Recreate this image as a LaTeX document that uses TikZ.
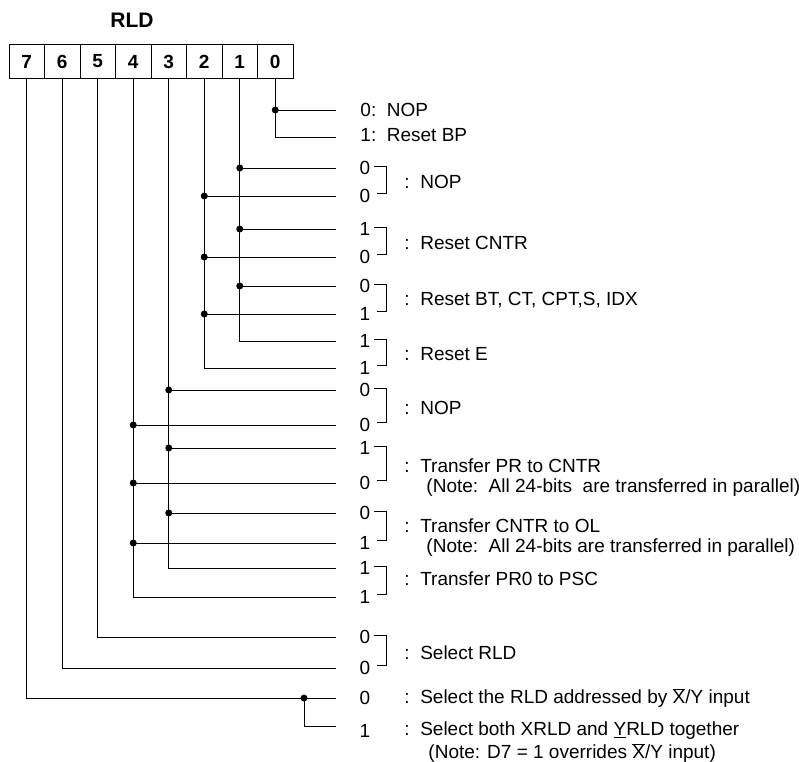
\documentclass[tikz,border=0pt]{standalone}
\usepackage{fontspec}
\setmainfont{Liberation Sans}
\usetikzlibrary{positioning,calc}
\newcommand{\barX}{\ensuremath{\overline{\mbox{X}}}}

\begin{document}
\begin{tikzpicture}[x=1pt,y=-1pt,line width=0.9pt]
  \tikzset{
    txt/.style={font=\fontsize{19}{22}\selectfont,inner sep=0pt},
    bitcell/.style={draw,minimum width=35.5pt,minimum height=33.5pt,
      inner sep=0pt,font=\fontsize{19}{22}\selectfont\bfseries},
    val/.style={txt,anchor=center},
    lbl/.style={txt,anchor=west},
  }
  \useasboundingbox (0,0) rectangle (799,761);

  \foreach \b [count=\i from 0] in {7,...,0}
    \node[bitcell] (b\b) at ({9+35.5*(\i+0.5)},61.5) {\b};
  \node[txt,font=\fontsize{21}{24}\selectfont\bfseries] (title) at (132,20) {RLD};

  \foreach \n/\y in {0/110,1/137,2/168,3/196,4/229,5/257,6/286,7/314,8/341,9/368,
      10/390,11/425,12/448,13/483,14/513,15/543,16/568,17/597,18/637,19/668,
      20/698,21/726}
    \coordinate (e\n) at (336,\y);
  \coordinate (j7) at (304,698);

  \draw (b0.south) |- (e1);
  \draw (b0 |- e0) -- (e0);
  \fill (b0 |- e0) circle (3.5pt);

  \draw (b1.south) |- (e8);
  \foreach \n in {2,4,6} {
    \draw (b1 |- e\n) -- (e\n);
    \fill (b1 |- e\n) circle (3.5pt);
  }
  \draw (b2.south) |- (e9);
  \foreach \n in {3,5,7} {
    \draw (b2 |- e\n) -- (e\n);
    \fill (b2 |- e\n) circle (3.5pt);
  }
  \draw (b3.south) |- (e16);
  \foreach \n in {10,12,14} {
    \draw (b3 |- e\n) -- (e\n);
    \fill (b3 |- e\n) circle (3.5pt);
  }
  \draw (b4.south) |- (e17);
  \foreach \n in {11,13,15} {
    \draw (b4 |- e\n) -- (e\n);
    \fill (b4 |- e\n) circle (3.5pt);
  }
  \draw (b5.south) |- (e18);
  \draw (b6.south) |- (e19);
  \draw (b7.south) |- (e20);
  \draw (j7) |- (e21);
  \fill (j7) circle (3.5pt);

  \node[lbl] (l0) at ($(e0)+(24,0)$) {0:\ \ NOP};
  \node[lbl] (l1) at ($(e1)+(24,-2)$) {1:\ \ Reset BP};

  \foreach \u/\l/\tu/\tl in {2/3/0/0,4/5/1/0,6/7/0/1,8/9/1/1,10/11/0/0,
      12/13/1/0,14/15/0/1,16/17/1/1,18/19/0/0} {
    \node[val] (v\u) at ($(e\u)+(29,0)$) {\tu};
    \node[val] (v\l) at ($(e\l)+(29,0)$) {\tl};
    \draw ($(e\u)+(38,-2)$) -| ($(e\l)+(50,-3)$) -- ($(e\l)+(41,-3)$);
  }

  \node[lbl] (gA) at ($(e2)!0.5!(e3)+(68,0)$) {:\ \ NOP};
  \node[lbl] (gB) at ($(e4)!0.5!(e5)+(68,0)$) {:\ \ Reset CNTR};
  \node[lbl] (gC) at ($(e6)!0.5!(e7)+(68,0)$) {:\ \ Reset BT, CT, CPT,S, IDX};
  \node[lbl] (gD) at ($(e8)!0.5!(e9)+(68,0)$) {:\ \ Reset E};
  \node[lbl] (gE) at ($(e10)!0.5!(e11)+(68,0)$) {:\ \ NOP};
  \node[lbl] (gF) at ($(e12)!0.5!(e13)+(68,0)$) {:\ \ Transfer PR to CNTR};
  \node[lbl] (nF) at ($(gF.west)+(22,22)$) {(Note:\ \ All 24-bits\ \ are transferred in parallel)};
  \node[lbl] (gG) at ($(e14)!0.5!(e15)+(68,-2)$) {:\ \ Transfer CNTR to OL};
  \node[lbl] (nG) at ($(gG.west)+(22,22)$) {(Note:\ \ All 24-bits are transferred in parallel)};
  \node[lbl] (gH) at ($(e16)!0.5!(e17)+(68,-4)$) {:\ \ Transfer PR0 to PSC};
  \node[lbl] (gI) at ($(e18)!0.5!(e19)+(68,0)$) {:\ \ Select RLD};

  \node[val] (v20) at ($(e20)+(29,0)$) {0};
  \node[val] (v21) at ($(e21)+(29,5)$) {1};
  \node[lbl] (g20) at ($(e20)+(68,0)$) {:\ \ Select the RLD addressed by \barX/Y input};
  \node[lbl] (g21) at ($(e21)+(68,5)$) {:\ \ Select both XRLD and \underline{Y}RLD together};
  \node[lbl] (n21) at ($(g21.west)+(24,22)$) {(Note: D7 = 1 overrides \barX/Y input)};
\end{tikzpicture}
\end{document}
